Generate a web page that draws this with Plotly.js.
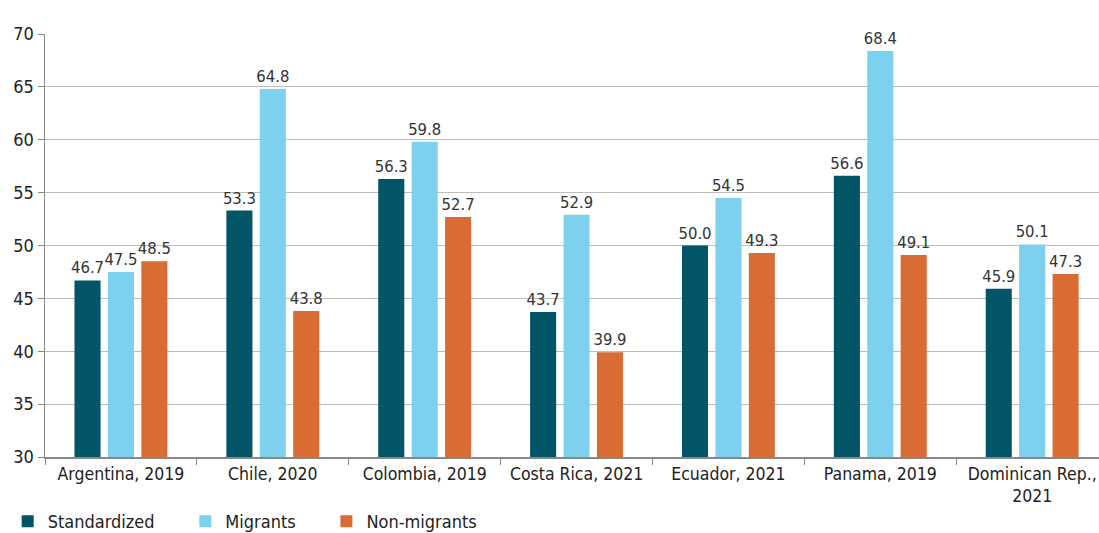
<!DOCTYPE html>
<html><head><meta charset="utf-8">
<script src="https://cdn.plot.ly/plotly-3.0.1.min.js"></script>
<style>html,body{margin:0;padding:0;background:#fff}#chart{width:1099px;height:533px}</style>
</head><body><div id="chart"></div>
<script>
const categories = ["Argentina, 2019","Chile, 2020","Colombia, 2019","Costa Rica, 2021","Ecuador, 2021","Panama, 2019","Dominican Rep.,<br>2021"];
const seriesNames = ["Standardized", "Migrants", "Non-migrants"];
const standardized = [46.7, 53.3, 56.3, 43.7, 50.0, 56.6, 45.9];
const migrants = [47.5, 64.8, 59.8, 52.9, 54.5, 68.4, 50.1];
const nonMigrants = [48.5, 43.8, 52.7, 39.9, 49.3, 49.1, 47.3];
const yTicks = [30,35,40,45,50,55,60,65,70];

const FONT = "'DejaVu Sans Condensed', 'DejaVu Sans', sans-serif";
const PAD = '\u00a0\u00a0\u00a0\u00a0\u00a0';
function tr(name, vals, color){
  return {type:'bar', name:name + PAD, x:categories, y:vals, marker:{color:color},
    text: vals.map(v=>v.toFixed(1)), textposition:'outside', cliponaxis:false,
    constraintext:'none',
    textfont:{family:FONT,size:16.5,color:'#333'}, hoverinfo:'skip'};
}
const data = [
  tr(seriesNames[0], standardized, '#015566'),
  tr(seriesNames[1], migrants, '#7dd0ee'),
  tr(seriesNames[2], nonMigrants, '#d96c34')
];
const layout = {
  width:1099, height:533,
  margin:{l:45, r:0, t:34, b:76},
  paper_bgcolor:'#fff', plot_bgcolor:'#fff',
  barmode:'group', bargap:0.34, bargroupgap:0.22,
  font:{family:FONT, size:17, color:'#222'},
  showlegend:true,
  legend:{orientation:'h', x:-0.0354, xanchor:'left', yref:'container', y:0.056, yanchor:'top',
    font:{family:FONT,size:18,color:'#222'}, itemwidth:30, tracegroupgap:0},
  xaxis:{range:[-0.5, 6.44], tickson:'boundaries', ticks:'outside', ticklen:6, tickcolor:'#888',
    showline:true, linecolor:'#888', linewidth:1.5, showgrid:false, fixedrange:true, automargin:false,
    tickfont:{family:FONT,size:17.5,color:'#222'}},
  yaxis:{range:[30,70], tickvals:yTicks, ticks:'outside', ticklen:6, tickcolor:'#888',
    showline:true, linecolor:'#888', linewidth:1.5, gridcolor:'#bdbdbd', gridwidth:1.2,
    zeroline:false, automargin:false, tickfont:{family:FONT,size:18,color:'#222'}}
};
Plotly.newPlot('chart', data, layout, {displayModeBar:false, staticPlot:true});
</script></body></html>
